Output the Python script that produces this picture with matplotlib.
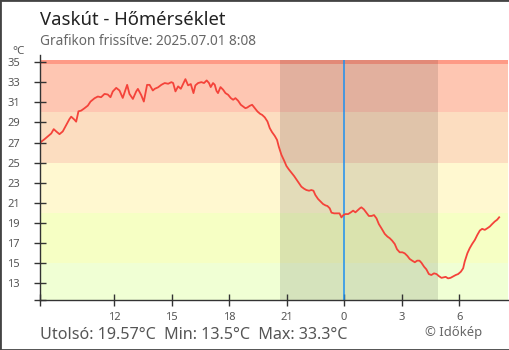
"""
plot.py - Vaskút temperature, last 24 hours
"""

import matplotlib
matplotlib.use("Agg")
import matplotlib.pyplot as plt
from matplotlib.patches import Rectangle

plt.rcParams['font.family'] = ['Noto Sans', 'DejaVu Sans']

# DATA (hours counted from midnight of the previous day, 24 = 00:00)

hours = [
    8.12, 8.19, 8.37, 8.54, 8.72, 8.85, 8.98, 9.15, 9.32, 9.50, 9.67, 9.76, 9.93,
    10.02, 10.14, 10.28, 10.45, 10.63, 10.77, 10.98, 11.15, 11.32, 11.50, 11.67,
    11.81, 11.93, 12.11, 12.28, 12.45, 12.58, 12.68, 12.80, 12.98, 13.15, 13.24,
    13.41, 13.55, 13.72, 13.85, 14.02, 14.12, 14.29, 14.47, 14.64, 14.82, 14.99,
    15.08, 15.20, 15.34, 15.48, 15.60, 15.72, 15.86, 16.00, 16.14, 16.24, 16.38,
    16.55, 16.69, 16.83, 16.95, 17.04, 17.16, 17.25, 17.34, 17.42, 17.55, 17.69,
    17.81, 17.95, 18.09, 18.21, 18.33, 18.47, 18.61, 18.73, 18.85, 18.95, 19.08,
    19.20, 19.34, 19.48, 19.62, 19.72, 19.86, 20.00, 20.12, 20.24, 20.38, 20.50,
    20.59, 20.73, 20.87, 20.99, 21.11, 21.25, 21.39, 21.51, 21.65, 21.77, 21.91,
    22.03, 22.17, 22.29, 22.40, 22.50, 22.64, 22.78, 22.90, 23.03, 23.13, 23.25,
    23.34, 23.48, 23.65, 23.76, 23.86, 23.96, 24.07, 24.21, 24.35, 24.47, 24.59,
    24.69, 24.82, 24.90, 25.03, 25.16, 25.29, 25.43, 25.56, 25.69, 25.81, 25.95,
    26.12, 26.26, 26.38, 26.50, 26.64, 26.76, 26.90, 27.04, 27.16, 27.30, 27.42,
    27.55, 27.69, 27.81, 27.93, 28.03, 28.17, 28.29, 28.42, 28.55, 28.69, 28.82,
    28.94, 29.08, 29.20, 29.30, 29.42, 29.55, 29.69, 29.82, 29.95, 30.09, 30.21,
    30.29, 30.43, 30.55, 30.68, 30.82, 30.95, 31.08, 31.20, 31.34, 31.48, 31.60,
    31.72, 31.86, 31.98, 32.09,
]
temps = [
    26.83, 27.07, 27.33, 27.6, 27.9, 28.33, 28.1, 27.83, 28.1, 28.73, 29.33, 29.57, 29.27,
    29.07, 30.1, 30.17, 30.4, 30.67, 31.07, 31.4, 31.57, 31.5, 31.83, 31.77,
    31.5, 32.07, 32.43, 32.17, 31.43, 32.17, 32.73, 31.83, 31.33, 32.07, 32.33,
    31.73, 31.07, 32.73, 32.73, 32.17, 32.34, 32.48, 32.74, 32.91, 32.84, 33.0,
    32.91, 32.08, 32.58, 32.34, 32.81, 33.3, 32.68, 32.81, 31.91, 32.68, 32.91,
    33.0, 32.91, 33.17, 32.91, 32.51, 32.91, 32.74, 32.14, 31.91, 32.51, 32.24,
    31.91, 31.74, 31.41, 31.25, 31.41, 31.15, 30.75, 30.58, 30.41, 30.48, 30.65,
    30.75, 30.41, 30.08, 29.85, 29.75, 29.5, 29.09, 28.43, 28.03, 27.66, 27.26,
    26.6, 25.77, 25.2, 24.67, 24.34, 24.0, 23.67, 23.34, 22.95, 22.61, 22.41,
    22.28, 22.21, 22.28, 22.21, 21.78, 21.39, 21.12, 20.89, 20.75, 20.69, 20.46,
    20.03, 19.96, 19.96, 19.96, 19.56, 19.79, 19.89, 19.89, 20.06, 20.23, 20.06,
    20.23, 20.46, 20.56, 20.36, 20.03, 19.7, 19.7, 19.79, 19.46, 18.9, 18.47,
    17.92, 17.65, 17.49, 17.26, 16.92, 16.39, 16.09, 16.09, 15.99, 15.73, 15.43,
    15.26, 15.1, 15.26, 15.26, 15.06, 14.66, 14.4, 13.93, 13.83, 14.0, 13.93,
    13.73, 13.55, 13.6, 13.65, 13.5, 13.55, 13.7, 13.83, 13.93, 14.16, 14.5,
    15.16, 15.99, 16.49, 16.92, 17.32, 17.82, 18.25, 18.42, 18.32, 18.49, 18.65,
    18.89, 19.15, 19.32, 19.57,
]

# temperature bands (lower, upper, colour)
band_edges = [11.35, 15, 20, 25, 30, 34.8, 35.2]
band_colors = ['#f0ffd4', '#f6ffc4', '#fff8d0', '#fcddc0', '#fec6b2', '#fe9a86']

x_ticks = [8 + 8 / 60, 12, 15, 18, 21, 24, 27, 30]
x_labels = ['', '12', '15', '18', '21', '0', '3', '6']
y_ticks = [11.35] + list(range(13, 36, 2))
y_labels = [''] + [str(t) for t in range(13, 36, 2)]

sunset, sunrise = 20.65, 28.88
now = 24.0

title = 'Vaskút - Hőmérséklet'
subtitle = 'Grafikon frissítve: 2025.07.01 8:08'
footer = 'Utolsó: 19.57°C  Min: 13.5°C  Max: 33.3°C'

# FIGURE

W, H = 510, 350
fig = plt.figure(figsize=(W / 100, H / 100), dpi=100)
ax = fig.add_axes([40 / W, 1 - 300 / H, 468 / W, 240 / H])

for lo, hi, c in zip(band_edges[:-1], band_edges[1:], band_colors):
    ax.axhspan(lo, hi, color=c, lw=0, zorder=0)

ax.axvspan(sunset, sunrise, color='black', alpha=0.11, lw=0, zorder=1)
ax.axvline(now, color='#1e90f0', lw=1.1, zorder=2)
ax.plot(hours, temps, color='#f4433a', lw=1.3, zorder=3)

ax.set_xlim(8 + 8 / 60, 32.55)
ax.set_ylim(11.35, 35.2)

ax.set_xticks(x_ticks, x_labels)
ax.set_yticks(y_ticks, y_labels)
ax.tick_params(direction='inout', length=8.6, width=1, color='#333333',
               labelcolor='#555555', labelsize=8)
ax.tick_params(axis='x', pad=4.5)
ax.tick_params(axis='y', pad=10)

for side in ['top', 'right']:
    ax.spines[side].set_visible(False)
for side in ['left', 'bottom']:
    ax.spines[side].set_color('#333333')
    ax.spines[side].set_linewidth(1)
    ax.spines[side].set_zorder(4)
ax.spines['left'].set_bounds(11.35, 35.7)

# texts
fig.text(40 / W, 1 - 25 / H, title, fontsize=13.3, color='#222222', va='baseline')
fig.text(40 / W, 1 - 45 / H, subtitle, fontsize=9.8, color='#666666', va='baseline')
fig.text(12 / W, 1 - 54.5 / H, '°C', fontsize=8.4, color='#555555', va='baseline')
fig.text(40 / W, 1 - 339 / H, footer, fontsize=11.6, color='#555555', va='baseline')
fig.text(425 / W, 1 - 336 / H, '© Időkép', fontsize=9.4, color='#666666', va='baseline')

fig.patches.append(Rectangle((0, 0), 1, 1, transform=fig.transFigure, fill=False,
                             edgecolor='#444444', linewidth=2))

fig.savefig('out.png', dpi=100)
